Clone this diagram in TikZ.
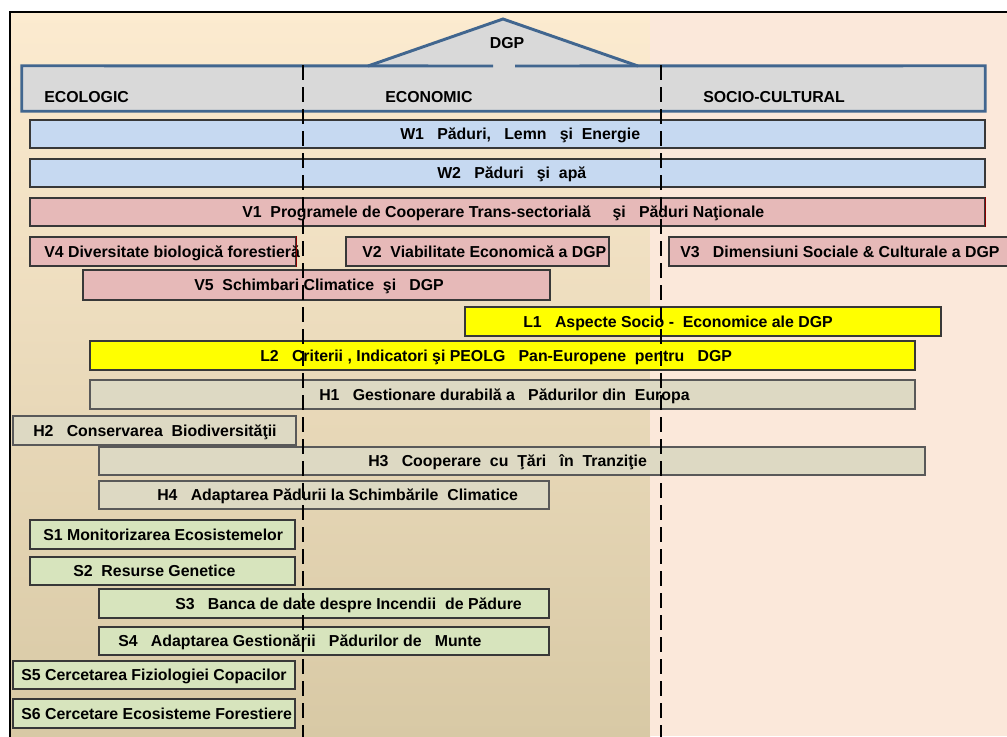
\documentclass[tikz,border=0pt]{standalone}
\usepackage{fontspec}
\setmainfont{Liberation Sans}
\usetikzlibrary{fit}

\definecolor{bgtop}{HTML}{FCEBD0}
\definecolor{bgmid}{HTML}{F3EAD6}
\definecolor{bgbot}{HTML}{D8C9A5}
\definecolor{bgright}{HTML}{FBE8DA}
\definecolor{hdrfill}{HTML}{D9D9D9}
\definecolor{hdrline}{HTML}{41668F}
\definecolor{fillW}{HTML}{C6D9F1}
\definecolor{fillV}{HTML}{E6B9B8}
\definecolor{fillL}{HTML}{FFFF00}
\definecolor{fillH}{HTML}{DDD9C3}
\definecolor{fillS}{HTML}{D7E4BD}

\newcommand\labfont{\fontsize{11.9}{14}\selectfont\bfseries}

% one horizontal band: name, style, x1, y1, x2, y2, text x, text
\newcommand\band[8]{%
  \node[#2, fit={(#3,#4) (#5,#6)}] (#1) {};
  \node[lab] (#1t) at (#7,{(#4+#6)/2}) {#8};
}

\begin{document}
\begin{tikzpicture}[x=0.75pt,y=-0.75pt,
  lab/.style={font=\labfont, inner sep=0pt, text height=8.5pt, text depth=0pt, anchor=west},
  hdrlab/.style={lab},
  bandbox/.style={draw=black!78, line width=0.8pt, inner sep=0pt},
  boxW/.style={bandbox, fill=fillW},
  boxV/.style={bandbox, fill=fillV},
  boxL/.style={bandbox, fill=fillL},
  boxH/.style={bandbox, fill=fillH, draw=black!65},
  boxS/.style={bandbox, fill=fillS},
  frameline/.style={line width=1.9pt, black},
  roofline/.style={line width=2.2pt, hdrline},
  divider/.style={line width=1.5pt, black, dash pattern=on 11.5pt off 5pt}]
\useasboundingbox (0,0) rectangle (1007,736);
\clip (0,0) rectangle (1007,736);

% backgrounds of the two panels
\fill[white] (0,0) rectangle (1007,736);
\shade[top color=bgtop, middle color=bgmid, bottom color=bgbot] (10,12) rectangle (650,736);
\fill[bgright] (650,12) rectangle (1010,736);
\draw[frameline] (10,740) -- (10,12) -- (1010,12);

% header bar with the DGP roof
\node[fit={(22,66) (985,111)}, inner sep=0pt, fill=hdrfill] (hdr) {};
\fill[hdrfill] (368,66) -- (503,19) -- (638,66) -- cycle;
\draw[roofline] (493,66) -- (hdr.north west) -- (hdr.south west) -- (hdr.south east) -- (hdr.north east) -- (515,66);
\draw[roofline, line join=miter] (368,66) -- (503,19) -- (638,66);
\node[lab, anchor=center] (dgp) at (507,42.5) {DGP};
\node[hdrlab] (eco) at (44,96.5) {ECOLOGIC};
\node[hdrlab] (econ) at (385,97) {ECONOMIC};
\node[hdrlab] (soc) at (703,97) {SOCIO-CULTURAL};

% W bands
\band{w1}{boxW}{30}{120}{985}{148}{400}{W1\ \ \ Păduri,\ \ \ Lemn\ \ \ şi\ \ Energie}
\band{w2}{boxW}{30}{159}{985}{187}{437}{W2\ \ \ Păduri\ \ \ şi\ \ apă}

% V bands
\band{v1}{boxV}{30}{198}{985}{226}{242}{V1\ \ Programele de Cooperare Trans-sectorială\ \ \ \ \ şi\ \ \ Păduri Naţionale}
\draw[red!55!black, line width=0.8pt] (v1.north east) -- (v1.south east);
\band{v4}{boxV}{30}{237}{296}{266}{44}{V4 Diversitate biologică forestieră}
\draw[red!55!black, line width=0.8pt] (v4.north east) -- (v4.south east);
\band{v2}{boxV}{346}{237}{609}{266}{362}{V2\ \ Viabilitate Economică a DGP}
\band{v3}{boxV}{669}{237}{1015}{266}{680}{V3\ \ \ Dimensiuni Sociale \& Culturale a DGP}
\band{v5}{boxV}{83}{270}{550}{300}{194}{V5\ \ Schimbari Climatice\ \ şi\ \ \ DGP}

% L bands
\band{l1}{boxL}{465}{307}{941}{336}{523}{L1\ \ \ Aspecte Socio -\ \ Economice ale DGP}
\band{l2}{boxL}{90}{341}{915}{370}{260}{L2\ \ \ Criterii , Indicatori şi PEOLG\ \ \ Pan-Europene\ \ pentru\ \ \ DGP}

% H bands
\band{h1}{boxH}{90}{380}{915}{409}{319}{H1\ \ \ Gestionare durabilă a\ \ \ Pădurilor din\ \ Europa}
\band{h2}{boxH}{13}{416}{296}{445}{33}{H2\ \ \ Conservarea\ \ Biodiversităţii}
\band{h3}{boxH}{99}{447}{925}{475}{368}{H3\ \ \ Cooperare\ \ cu\ \ Ţări\ \ \ în\ \ Tranziţie}
\band{h4}{boxH}{99}{481}{549}{509}{157}{H4\ \ \ Adaptarea Pădurii la Schimbările\ \ Climatice}

% S bands
\band{s1}{boxS}{30}{520}{295}{549}{43}{S1 Monitorizarea Ecosistemelor}
\band{s2}{boxS}{30}{557}{295}{585}{73}{S2\ \ Resurse Genetice}
\band{s3}{boxS}{99}{589}{549}{618}{175}{S3\ \ \ Banca de date despre Incendii\ \ de Pădure}
\band{s4}{boxS}{99}{627}{549}{655}{118}{S4\ \ \ Adaptarea Gestionării\ \ \ Pădurilor de\ \ \ Munte}
\band{s5}{boxS}{13}{661}{295}{689}{21}{S5 Cercetarea Fiziologiei Copacilor}
\band{s6}{boxS}{13}{699}{295}{728}{21}{S6 Cercetare Ecosisteme Forestiere}

% pillar dividers
\coordinate (d1top) at (302.5,65);
\coordinate (d1bot) at (302.5,740);
\coordinate (d2top) at (661,65);
\coordinate (d2bot) at (661,740);
\draw[divider] (d1top) -- (d1bot);
\draw[divider] (d2top) -- (d2bot);
\end{tikzpicture}
\end{document}
